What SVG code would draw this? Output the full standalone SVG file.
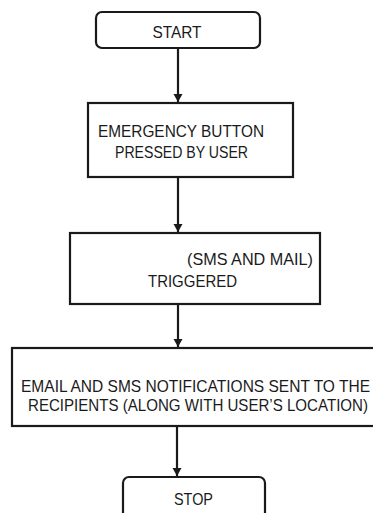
<svg xmlns="http://www.w3.org/2000/svg" width="373" height="513" viewBox="0 0 373 513">
<style>
.box{fill:#fff;stroke:#1a1a1a;stroke-width:2.2}
.t{font-family:"Liberation Sans",Arial,sans-serif;font-size:16.5px;fill:#1a1a1a}
.c{stroke:#1a1a1a;stroke-width:2.2;fill:none}
</style>
<defs>
<marker id="ah" markerWidth="10" markerHeight="10" refX="8" refY="5" orient="auto" markerUnits="userSpaceOnUse">
<path d="M0,0.5 L8,5 L0,9.5 Z" fill="#1a1a1a"/>
</marker>
</defs>
<rect width="373" height="513" fill="#fff"/>
<g id="connectors">
<line class="c" x1="178" y1="48" x2="178" y2="102" marker-end="url(#ah)"/>
<line class="c" x1="178" y1="177" x2="178" y2="232" marker-end="url(#ah)"/>
<line class="c" x1="178" y1="304" x2="178" y2="347" marker-end="url(#ah)"/>
<line class="c" x1="177" y1="426" x2="177" y2="476" marker-end="url(#ah)"/>
</g>
<g id="start">
<rect class="box" x="96" y="12" width="164" height="36" rx="6"/>
<text class="t" x="177" y="38" text-anchor="middle" textLength="49" lengthAdjust="spacingAndGlyphs">START</text>
</g>
<g id="emergency">
<rect class="box" x="88" y="103" width="205" height="74"/>
<text class="t" x="181" y="137" text-anchor="middle" textLength="166" lengthAdjust="spacingAndGlyphs">EMERGENCY BUTTON</text>
<text class="t" x="181.5" y="158" text-anchor="middle" textLength="133" lengthAdjust="spacingAndGlyphs">PRESSED BY USER</text>
</g>
<g id="triggered">
<rect class="box" x="70" y="233" width="250" height="71"/>
<text class="t" x="250" y="265" text-anchor="middle" textLength="126" lengthAdjust="spacingAndGlyphs">(SMS AND MAIL)</text>
<text class="t" x="192.5" y="287" text-anchor="middle" textLength="89" lengthAdjust="spacingAndGlyphs">TRIGGERED</text>
</g>
<g id="notifications">
<rect class="box" x="12" y="348" width="380" height="78"/>
<text class="t" x="195.5" y="392" text-anchor="middle" textLength="349" lengthAdjust="spacingAndGlyphs">EMAIL AND SMS NOTIFICATIONS SENT TO THE</text>
<text class="t" x="198" y="411" text-anchor="middle" textLength="340" lengthAdjust="spacingAndGlyphs">RECIPIENTS (ALONG WITH USER’S LOCATION)</text>
</g>
<g id="stop">
<rect class="box" x="123" y="477" width="142" height="50" rx="6"/>
<text class="t" x="193.5" y="505" text-anchor="middle" textLength="39" lengthAdjust="spacingAndGlyphs">STOP</text>
</g>
</svg>
